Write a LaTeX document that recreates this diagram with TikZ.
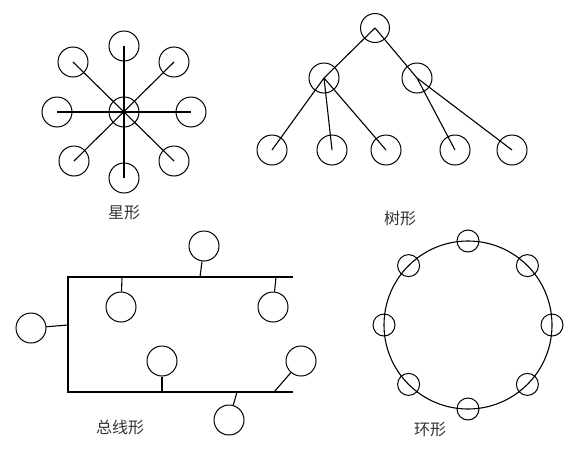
\documentclass[tikz,border=0pt]{standalone}
\usepackage{fontspec}
\usetikzlibrary{calc}
\newfontfamily\cjk{Noto Sans CJK SC}
\begin{document}
\begin{tikzpicture}[x=1pt,y=-1pt,
  host/.style={circle,draw,line width=1pt,inner sep=0pt,minimum size=30pt},
  rhost/.style={circle,draw,line width=1pt,inner sep=0pt,minimum size=22pt},
  link/.style={line width=1.1pt},
  lbl/.style={font=\cjk\fontsize{16}{18}\selectfont,inner sep=0pt,text=black!80}]
\useasboundingbox (0,0) rectangle (580,450);
% ---------- star ----------
\node[host] (s0) at (124,112) {};
\node[host] (s1) at (124,46) {};
\node[host] (s2) at (174,62) {};
\node[host] (s3) at (191,112) {};
\node[host] (s4) at (174,161) {};
\node[host] (s5) at (124,178) {};
\node[host] (s6) at (74,161) {};
\node[host] (s7) at (57,112) {};
\node[host] (s8) at (73,62) {};
\draw[link] (s1.center) -- (s5.center);
\draw[link] (s3.center) -- (s7.center);
\draw[link] (s2.center) -- (s6.center);
\draw[link] (s8.center) -- (s4.center);
\node[lbl] (starlbl) at (124,213) {星形};
% ---------- tree ----------
\node[host,minimum size=29pt] (t0) at (375,28) {};
\node[host] (t1) at (324,78) {};
\node[host] (t2) at (417,78) {};
\node[host] (l1) at (272,150) {};
\node[host] (l2) at (332,150) {};
\node[host] (l3) at (386,150) {};
\node[host] (l4) at (455,150) {};
\node[host] (l5) at (512,150) {};
\draw[link] (t0.center) -- (t1.center);
\draw[link] (t0.center) -- (t2.center);
\draw[link] (t1.center) -- (l1.center);
\draw[link] (t1.center) -- (l2.center);
\draw[link] (t1.center) -- (l3.center);
\draw[link] (t2.center) -- (l4.center);
\draw[link] (t2.center) -- (l5.center);
\node[lbl] (treelbl) at (400,218) {树形};
% ---------- bus ----------
\coordinate (btr) at (293,277);
\coordinate (btl) at (68,277);
\coordinate (bbl) at (68,392);
\coordinate (bbr) at (293,392);
\draw[link] (btr) -- (btl) -- (bbl) -- (bbr);
\node[host] (b1) at (204,246) {};
\node[host] (b2) at (121,307) {};
\node[host] (b3) at (273,307) {};
\node[host] (b4) at (31,328) {};
\node[host] (b5) at (162,361) {};
\node[host] (b6) at (301,361) {};
\node[host] (b7) at (229,420) {};
\coordinate (p1) at (200,277);
\coordinate (p2) at (122,277);
\coordinate (p3) at (276,277);
\coordinate (p4) at (68,325);
\coordinate (p5) at (162,392);
\coordinate (p6) at (274,392);
\coordinate (p7) at (237,392);
\draw[link] (b1) -- (p1);
\draw[link] (b2) -- (p2);
\draw[link] (b3) -- (p3);
\draw[link] (b4) -- (p4);
\draw[link] (b5) -- (p5);
\draw[link] (b6) -- (p6);
\draw[link] (b7) -- (p7);
\node[lbl] (buslbl) at (120,427) {总线形};
% ---------- ring ----------
\node[circle,draw,line width=1.1pt,inner sep=0pt,minimum size=168pt] (ring) at (468,325) {};
\foreach \a [count=\i] in {90,45,0,-45,-90,-135,180,135}{
  \node[rhost] (r\i) at ($(ring.center)+(\a:84pt)$) {};
}
\node[lbl] (ringlbl) at (430,430) {环形};
\end{tikzpicture}
\end{document}
